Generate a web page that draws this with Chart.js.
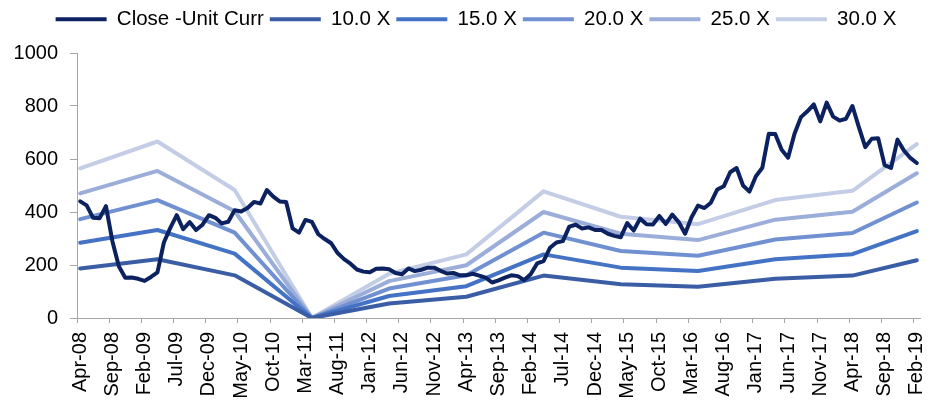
<!DOCTYPE html>
<html>
<head>
<meta charset="utf-8">
<script src="https://cdn.jsdelivr.net/npm/chart.js@4/dist/chart.umd.min.js"></script>
<style>
  html, body { margin: 0; padding: 0; background: #ffffff; }
  #wrap { position: relative; width: 935px; height: 401px; }
  #pe { display: block; }
</style>
</head>
<body>
<div id="wrap"><canvas id="pe" width="935" height="401"></canvas></div>
<script>
// Monthly categories, Apr-08 .. Feb-19
const MONTH_NAMES = ['Jan','Feb','Mar','Apr','May','Jun','Jul','Aug','Sep','Oct','Nov','Dec'];
const categories = [];
for (let k = 0; k < 131; k++) {
  const m = (3 + k) % 12;
  const y = 8 + Math.floor((3 + k) / 12);
  categories.push(MONTH_NAMES[m] + '-' + String(y).padStart(2, '0'));
}

// Month-end close price
const closePrice = [
  440, 425, 378, 376, 422, 290, 195, 152, 153, 148, 140, 155, 172,
  285, 340, 388, 335, 362, 332, 352, 388, 378, 357, 363, 407, 402,
  415, 438, 432, 483, 458, 440, 438, 338, 322, 370, 363, 316, 298,
  282, 245, 222, 205, 183, 175, 173, 186, 187, 184, 170, 165, 187,
  177, 182, 190, 190, 178, 168, 170, 161, 161, 167, 160, 152, 134,
  142, 152, 161, 158, 143, 165, 206, 215, 265, 285, 290, 345, 352,
  338, 342, 332, 332, 318, 310, 305, 358, 330, 375, 354, 353, 385,
  355, 390, 362, 318, 380, 424, 415, 435, 485, 497, 550, 566, 500,
  477, 535, 567, 695, 694, 635, 605, 695, 758, 780, 806, 742, 813,
  760, 745, 752, 800, 720, 645, 676, 678, 577, 566, 673, 632, 604, 585
];

// P/E band anchor months and band levels
const bandMonths = ['Apr-08','Apr-09','Apr-10','Apr-11','Apr-12','Apr-13',
                    'Apr-14','Apr-15','Apr-16','Apr-17','Apr-18','Feb-19'];
const band10 = [187, 222, 161, 0,  55,  80, 160, 127, 118, 148, 160, 218];
const band15 = [284, 332, 243, 0,  83, 120, 240, 190, 177, 222, 241, 328];
const band20 = [373, 445, 322, 0, 111, 161, 322, 253, 235, 296, 321, 436];
const band25 = [470, 555, 403, 0, 139, 199, 400, 318, 294, 371, 401, 546];
const band30 = [565, 666, 483, 0, 167, 240, 478, 382, 354, 445, 480, 656];

const yTicks = [0, 200, 400, 600, 800, 1000];

const AXIS_GREY = '#a6a6a6';
const LEGEND_SHIFT = 32;

function bandPoints(values) {
  return bandMonths.map((m, i) => ({ x: m, y: values[i] }));
}

function lineSet(label, data, color) {
  return {
    label, data,
    borderColor: color,
    backgroundColor: color,
    borderWidth: 4,
    pointRadius: 0,
    pointHoverRadius: 0,
    tension: 0,
    borderJoinStyle: 'round',
    borderCapStyle: 'round',
    fill: false
  };
}

Chart.defaults.font.family = '"Liberation Sans", Arial, sans-serif';
Chart.defaults.font.size = 20;
Chart.defaults.color = '#000000';

// Fixed-height legend strip, nudged right of the plot's centre line
const legendStrip = {
  id: 'legendStrip',
  beforeUpdate(chart) {
    const lg = chart.legend;
    if (lg && !lg.__fixed) {
      const fit = lg.fit.bind(lg);
      lg.fit = function () { fit(); this.height = 50; };
      lg.__fixed = true;
    }
  },
  afterLayout(chart) {
    if (chart.legend) chart.legend.left += LEGEND_SHIFT;
  }
};

new Chart(document.getElementById('pe'), {
  type: 'line',
  data: {
    labels: categories,
    datasets: [
      lineSet('Close -Unit Curr', closePrice, '#0b2160'),
      lineSet('10.0 X', bandPoints(band10), '#3a5da5'),
      lineSet('15.0 X', bandPoints(band15), '#4472c4'),
      lineSet('20.0 X', bandPoints(band20), '#7190d2'),
      lineSet('25.0 X', bandPoints(band25), '#9badd9'),
      lineSet('30.0 X', bandPoints(band30), '#c4cde6')
    ]
  },
  options: {
    responsive: false,
    animation: false,
    devicePixelRatio: 1,
    layout: { padding: { top: 3, right: 15, bottom: 0, left: 0 } },
    plugins: {
      tooltip: { enabled: false },
      legend: {
        position: 'top',
        labels: {
          boxWidth: 51,
          boxHeight: 4,
          padding: 6,
          color: '#000000',
          font: { size: 20.5 },
          generateLabels(chart) {
            const items = Chart.defaults.plugins.legend.labels.generateLabels(chart);
            items.forEach(it => { it.fillStyle = it.strokeStyle; it.lineWidth = 0; });
            return items;
          }
        }
      }
    },
    scales: {
      x: {
        type: 'category',
        offset: true,
        border: { display: true, color: AXIS_GREY, width: 1 },
        grid: {
          offset: true,
          drawOnChartArea: false,
          drawTicks: true,
          tickLength: 5,
          tickColor: ctx => (ctx.index % 5 === 0 ? AXIS_GREY : 'rgba(0,0,0,0)')
        },
        ticks: {
          autoSkip: false,
          maxRotation: 90,
          minRotation: 90,
          padding: 9,
          font: { size: 20 },
          callback: (v, i) => (i % 5 === 0 ? categories[i] : '')
        },
        afterFit(scale) {
          scale.height = 83;
          scale.paddingLeft = 0;
          scale.paddingRight = 0;
        }
      },
      y: {
        min: 0,
        max: 1000,
        border: { display: true, color: AXIS_GREY, width: 1 },
        grid: {
          drawOnChartArea: false,
          drawTicks: true,
          tickLength: 7,
          tickColor: AXIS_GREY
        },
        afterBuildTicks(scale) { scale.ticks = yTicks.map(v => ({ value: v })); },
        ticks: {
          padding: 12,
          font: { size: 20 },
          callback: v => String(v)
        },
        afterFit(scale) { scale.width = 77; }
      }
    }
  },
  plugins: [legendStrip]
});
</script>
</body>
</html>
